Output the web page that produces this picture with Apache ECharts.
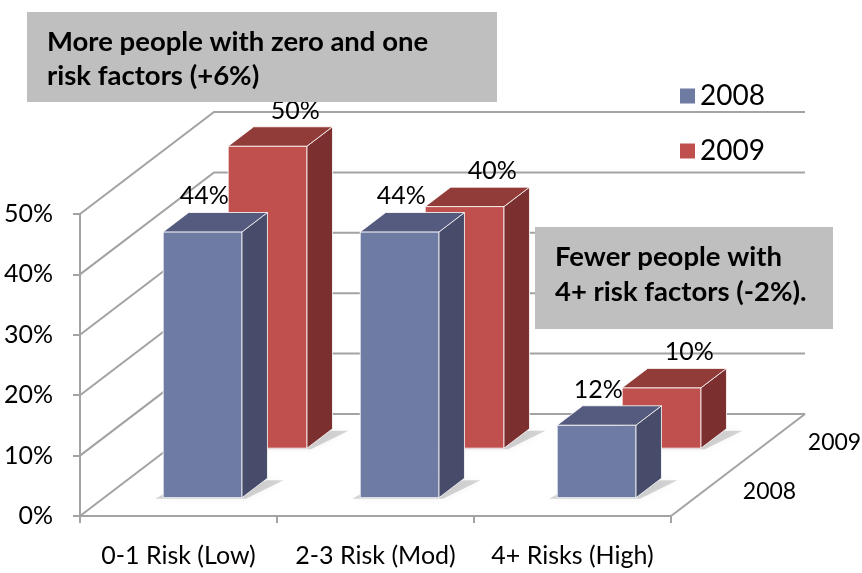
<!DOCTYPE html>
<html>
<head>
<meta charset="utf-8">
<script src="https://cdn.jsdelivr.net/npm/echarts@6/dist/echarts.min.js"></script>
<style>
  html, body { margin: 0; padding: 0; background: #fff; }
  #chart { width: 862px; height: 573px; }
</style>
</head>
<body>
<div id="chart"></div>
<script>
// ---- data ----
const categories = ['0-1 Risk (Low)', '2-3 Risk (Mod)', '4+ Risks (High)'];
const seriesNames = ['2008', '2009'];
const values2008 = [44, 44, 12];
const values2009 = [50, 40, 10];
const yTicks = [0, 10, 20, 30, 40, 50];
const noteTop = ['More people with zero and one', 'risk factors (+6%)'];
const noteRight = ['Fewer people with', '4+ risk factors (-2%).'];

// ---- oblique projection of the depth (series) axis ----
const DEPTH_DX = 134;          // px shift for the full depth
const DEPTH_DY = -102;
const ROW_CENTER = [0.275, 0.76];  // depth position of each series row
const BAR_DEPTH = 0.19;
const BAR_WIDTH = 0.4;         // share of the category band
const LABEL_DX = [-11, 15];    // value label nudge per row
const FONT = 'Lato, "Open Sans", sans-serif';
const GRID_COLOR = '#a3a3a3';

const palette = {
  '2008': { front: '#6e7ba2', side: '#474c6a', top: '#555b7e' },
  '2009': { front: '#c0504d', side: '#7b2f2e', top: '#913c39' }
};

// left wall diagonals + back wall grid lines, floor edges
function renderFrame(params, api) {
  const cs = params.coordSys;
  const v = api.value(1);
  const y = api.coord([0, v])[1];
  const L = cs.x, R = cs.x + cs.width;
  const st = { stroke: GRID_COLOR, lineWidth: 2, fill: null };
  const children = [{
    type: 'polyline',
    shape: { points: [[L, y], [L + DEPTH_DX, y + DEPTH_DY], [R + DEPTH_DX, y + DEPTH_DY]] },
    style: st
  }];
  if (v === 0) {
    children.push({ type: 'line', shape: { x1: R, y1: y, x2: R + DEPTH_DX, y2: y + DEPTH_DY }, style: st });
  }
  return { type: 'group', children };
}

function makeBarRenderer(name, row) {
  const c = palette[name];
  return function (params, api) {
    const cat = api.value(0), val = api.value(1);
    const base = api.coord([cat, 0]);
    const top = api.coord([cat, val]);
    const bw = api.size([1, 0])[0] * BAR_WIDTH;
    const t0 = ROW_CENTER[row] - BAR_DEPTH / 2, t1 = ROW_CENTER[row] + BAR_DEPTH / 2;
    const ax = DEPTH_DX * t0, ay = DEPTH_DY * t0, bx = DEPTH_DX * t1, by = DEPTH_DY * t1;
    const x0 = base[0] - bw / 2, x1 = base[0] + bw / 2, yb = base[1], yt = top[1];
    const edge = 'rgba(255,255,255,0.8)';
    return {
      type: 'group',
      children: [
        { type: 'polygon',
          shape: { points: [[x0 + ax - 8, yb + ay + 1], [x1 + ax + 4, yb + ay + 1], [x1 + bx + 16, yb + by + 2], [x0 + bx, yb + by + 2]] },
          style: { fill: 'rgba(0,0,0,0.16)', shadowBlur: 8, shadowColor: 'rgba(0,0,0,0.3)' } },
        { type: 'rect',
          shape: { x: x0 + ax, y: yt + ay, width: bw, height: yb - yt },
          style: { fill: c.front, stroke: edge, lineWidth: 1 } },
        { type: 'polygon',
          shape: { points: [[x1 + ax, yt + ay], [x1 + bx, yt + by], [x1 + bx, yb + by], [x1 + ax, yb + ay]] },
          style: { fill: c.side, stroke: edge, lineWidth: 1 } },
        { type: 'polygon',
          shape: { points: [[x0 + ax, yt + ay], [x1 + ax, yt + ay], [x1 + bx, yt + by], [x0 + bx, yt + by]] },
          style: { fill: c.top, stroke: edge, lineWidth: 1 } },
        { type: 'text',
          x: (x0 + x1) / 2 + (ax + bx) / 2 + LABEL_DX[row],
          y: yt + (ay + by) / 2 - 26,
          style: { text: val + '%', font: '25px ' + FONT, fill: '#000', align: 'center', verticalAlign: 'middle' } }
      ]
    };
  };
}

// series names written along the right floor edge
function renderDepthLabel(params, api) {
  const cs = params.coordSys;
  const row = params.dataIndex;
  const y0 = api.coord([0, 0])[1];
  const R = cs.x + cs.width;
  return {
    type: 'text',
    x: R + DEPTH_DX * ROW_CENTER[row] + 35,
    y: y0 + DEPTH_DY * ROW_CENTER[row] + 4,
    style: { text: seriesNames[row], font: '23px ' + FONT, fill: '#000', align: 'left', verticalAlign: 'middle' }
  };
}

function noteBox(x, y, w, h, lines, textX, firstY, lineGap) {
  const children = [{ type: 'rect', z: 100, shape: { x: 0, y: 0, width: w, height: h }, style: { fill: '#bfbfbf' } }];
  lines.forEach((t, i) => children.push({
    type: 'text', z: 101, x: textX - x, y: firstY - y + i * lineGap,
    style: { text: t, font: 'bold 27.5px ' + FONT, fill: '#000', align: 'left', verticalAlign: 'middle' }
  }));
  return { type: 'group', x, y, z: 100, children };
}

const chart = echarts.init(document.getElementById('chart'));
chart.setOption({
  animation: false,
  backgroundColor: '#fff',
  grid: { left: 80, right: 191, top: 214, bottom: 57 },
  legend: {
    data: seriesNames, orient: 'vertical', left: 675, top: 77,
    itemWidth: 15, itemHeight: 15, itemGap: 27, icon: 'rect',
    textStyle: { fontSize: 28, fontFamily: FONT, color: '#000' }
  },
  xAxis: {
    type: 'category', data: categories, boundaryGap: true,
    axisLine: { lineStyle: { color: GRID_COLOR, width: 2 } },
    axisTick: { show: true, length: 7, interval: 0, alignWithLabel: false, lineStyle: { color: GRID_COLOR, width: 2 } },
    axisLabel: { interval: 0, hideOverlap: false, fontSize: 25, fontFamily: FONT, color: '#000', margin: 27 },
    splitLine: { show: false }
  },
  yAxis: {
    type: 'value', min: 0, max: 50, interval: 10,
    axisLine: { show: true, lineStyle: { color: GRID_COLOR, width: 2 } },
    axisTick: { show: true, length: 7, lineStyle: { color: GRID_COLOR, width: 2 } },
    axisLabel: { formatter: '{value}%', fontSize: 25, fontFamily: FONT, color: '#000', margin: 27 },
    splitLine: { show: false }
  },
  graphic: { elements: [
    noteBox(27, 12, 470, 90, noteTop, 47, 42, 34),
    noteBox(535, 227, 298, 102, noteRight, 555, 257, 35)
  ] },
  series: [
    { type: 'custom', name: 'frame', silent: true, z: 1,
      data: yTicks.map(v => [0, v]), encode: { x: 0, y: 1 }, renderItem: renderFrame },
    { type: 'custom', name: '2009', z: 2, itemStyle: { color: palette['2009'].front },
      data: values2009.map((v, i) => [i, v]), encode: { x: 0, y: 1 }, renderItem: makeBarRenderer('2009', 1) },
    { type: 'custom', name: '2008', z: 3, itemStyle: { color: palette['2008'].front },
      data: values2008.map((v, i) => [i, v]), encode: { x: 0, y: 1 }, renderItem: makeBarRenderer('2008', 0) },
    { type: 'custom', name: 'depth', silent: true, z: 3,
      data: seriesNames.map(() => [0, 0]), encode: { x: 0, y: 1 }, renderItem: renderDepthLabel }
  ]
});
</script>
</body>
</html>
